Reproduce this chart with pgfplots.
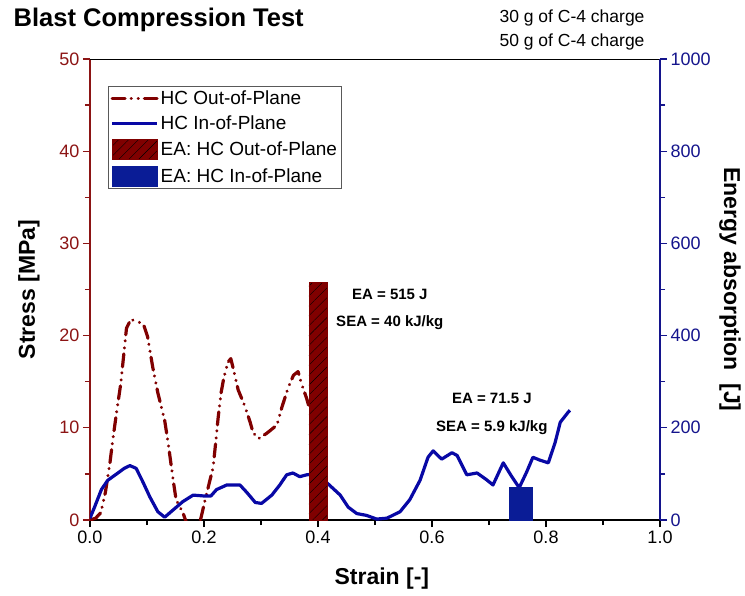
\documentclass[border=0pt]{standalone}
\usepackage{fontspec}
\setmainfont{Liberation Sans}
\usepackage{pgfplots}
\pgfplotsset{compat=1.18}
\usetikzlibrary{patterns.meta}

\definecolor{hcred}{RGB}{128,0,0}
\definecolor{hcblue}{RGB}{8,8,165}
\definecolor{barblue}{RGB}{10,28,150}
\definecolor{axred}{RGB}{140,20,20}
\definecolor{axblue}{RGB}{20,20,140}

\pgfplotsset{
  base/.style={
    scale only axis, width=570pt, height=461pt,
    xmin=0, xmax=1,
    clip mode=individual,
    tick align=outside,
    major tick length=7pt, minor tick length=5pt,
    tick label style={font=\fontsize{18}{18}\selectfont},
    label style={font=\fontsize{23}{23}\selectfont\bfseries},
    /pgf/number format/assume math mode=true,
    /pgf/number format/1000 sep={},
  },
  dashdotdot/.style={dash pattern=on 13pt off 6pt on 0.1pt off 7pt on 0.1pt off 6pt},
  hatch/.style={postaction={pattern={Lines[angle=45,distance=7pt,line width=0.4pt]}, pattern color=black}},
  linelegend/.style={legend image code/.code={\draw[##1] (0pt,0pt) -- (45pt,0pt);}},
  boxlegend/.style={legend image code/.code={\draw[##1] (0pt,-10pt) rectangle (45pt,10pt);}},
}

\begin{document}
\begin{tikzpicture}
\begin{axis}[base,
    ymin=0, ymax=50,
    ytick={0,10,20,30,40,50}, minor ytick={5,15,25,35,45},
    xtick={0,0.2,0.4,0.6,0.8,1.0}, minor xtick={0.1,0.3,0.5,0.7,0.9},
    xticklabel style={/pgf/number format/.cd, fixed, fixed zerofill, precision=1},
    axis x line*=bottom, axis y line*=left,
    x axis line style={-, black, line width=1.5pt},
    y axis line style={-, axred, line width=1.2pt},
    xtick style={black, line width=1.2pt},
    ytick style={axred, line width=1.2pt},
    minor y tick style={axred, line width=1.2pt},
    minor x tick style={black, line width=1.2pt},
    yticklabel style={text=axred},
    xlabel={Strain [-]}, ylabel={Stress [MPa]},
    xlabel style={at={(axis description cs:0.512,-0.126)}, anchor=center},
    ylabel style={at={(axis description cs:-0.107,0.5)}, anchor=center},
]
% HC out-of-plane stress
\addplot[hcred, line width=3.2pt, line cap=round, line join=round, dashdotdot] coordinates {
(0,0)(0.010,0.2)(0.019,0.8)(0.027,3.0)(0.035,6.2)(0.040,8.7)(0.046,11.4)
(0.054,14.8)(0.060,18.4)(0.064,20.8)(0.072,21.8)(0.080,21.5)(0.090,21.4)
(0.095,21.0)(0.101,19.9)(0.110,16.6)(0.119,13.8)(0.131,10.8)(0.137,8.4)
(0.146,4.3)(0.151,2.2)(0.163,0.8)(0.172,-0.8)(0.190,-0.8)(0.195,0.3)
(0.202,2.2)(0.216,5.7)(0.221,8.7)(0.225,11.2)(0.230,13.8)(0.235,15.5)
(0.242,17.1)(0.247,17.5)(0.251,16.5)(0.260,14.1)(0.272,12.3)(0.281,10.6)
(0.286,9.5)(0.295,8.8)(0.310,9.4)(0.328,10.3)(0.337,12.3)(0.348,14.4)
(0.357,15.7)(0.365,16.1)(0.371,14.8)(0.380,13.2)(0.386,11.9)
};
% HC in-of-plane stress
\addplot[hcblue, line width=3.2pt, line join=round] coordinates {
(0,0.2)(0.008,1.4)(0.020,3.3)(0.031,4.3)(0.049,5.1)(0.060,5.6)(0.070,5.9)
(0.081,5.6)(0.093,4.1)(0.105,2.5)(0.119,0.9)(0.131,0.3)(0.146,1.1)(0.163,2.0)
(0.181,2.7)(0.201,2.6)(0.212,2.6)(0.222,3.3)(0.240,3.8)(0.263,3.8)(0.275,3.0)
(0.290,1.9)(0.301,1.8)(0.319,2.7)(0.333,3.8)(0.345,4.9)(0.356,5.1)(0.368,4.7)
(0.380,4.9)(0.395,5.0)(0.405,4.6)(0.418,3.9)(0.439,2.7)(0.453,1.4)(0.468,0.7)
(0.485,0.5)(0.503,0.1)(0.521,0.2)(0.544,0.9)(0.561,2.2)(0.579,4.3)(0.593,6.8)
(0.602,7.5)(0.617,6.6)(0.635,7.3)(0.644,7.0)(0.661,4.9)(0.679,5.1)(0.695,4.4)
(0.707,3.8)(0.725,6.2)(0.740,4.7)(0.753,3.5)(0.766,5.2)(0.777,6.8)(0.789,6.5)
(0.804,6.2)(0.816,8.4)(0.825,10.6)(0.839,11.7)(0.842,11.9)
};
\node[font=\fontsize{15}{15}\selectfont\bfseries] at (axis cs:0.526,24.5) {EA = 515 J};
\node[font=\fontsize{15}{15}\selectfont\bfseries] at (axis cs:0.526,21.4) {SEA = 40 kJ/kg};
\node[font=\fontsize{15}{15}\selectfont\bfseries] at (axis cs:0.705,13.2) {EA = 71.5 J};
\node[font=\fontsize{15}{15}\selectfont\bfseries] at (axis cs:0.705,10.0) {SEA = 5.9 kJ/kg};
\node[anchor=west, font=\fontsize{25.5}{25.5}\selectfont\bfseries] at (axis description cs:-0.140,1.085) {Blast Compression Test};
\node[anchor=east, font=\fontsize{17.5}{17.5}\selectfont] at (axis description cs:0.979,1.089) {30 g of C-4 charge};
\node[anchor=east, font=\fontsize{17.5}{17.5}\selectfont] at (axis description cs:0.979,1.037) {50 g of C-4 charge};
\end{axis}

\begin{axis}[base,
    ymin=0, ymax=1000,
    ytick={0,200,400,600,800,1000}, minor ytick={100,300,500,700,900},
    xtick=\empty,
    axis y line*=right, axis x line*=top,
    x axis line style={-, black, line width=0.6pt},
    y axis line style={-, axblue, line width=1.2pt},
    ytick style={axblue, line width=1.2pt},
    minor y tick style={axblue, line width=1.2pt},
    yticklabel style={text=axblue},
    ylabel={Energy absorption\ \ [J]},
    ylabel style={at={(axis description cs:1.123,0.5)}, anchor=center, rotate=180},
    legend cell align=left,
    legend style={at={(0.032,0.941)}, anchor=north west, draw=gray!70!black,
      line width=0.6pt, font=\fontsize{19}{19}\selectfont, inner sep=2pt,
      row sep=6pt},
]
% energy absorption bars
\addplot[ybar, bar width=0.032, bar shift=0pt, fill=hcred, draw=hcred, hatch, forget plot]
  coordinates {(0.4,515)};
\addplot[ybar, bar width=0.04, bar shift=0pt, fill=barblue, draw=barblue, forget plot]
  coordinates {(0.755,71.5)};

\addlegendimage{hcred, line width=3.2pt, line cap=round, dashdotdot, linelegend}
\addlegendimage{hcblue, line width=3.2pt, linelegend}
\addlegendimage{fill=hcred, draw=hcred, hatch, boxlegend}
\addlegendimage{fill=barblue, draw=barblue, boxlegend}
\legend{HC Out-of-Plane, HC In-of-Plane, EA: HC Out-of-Plane, EA: HC In-of-Plane}
\end{axis}
\path (-90pt,-75pt) rectangle (655pt,520pt);
\end{tikzpicture}
\end{document}
